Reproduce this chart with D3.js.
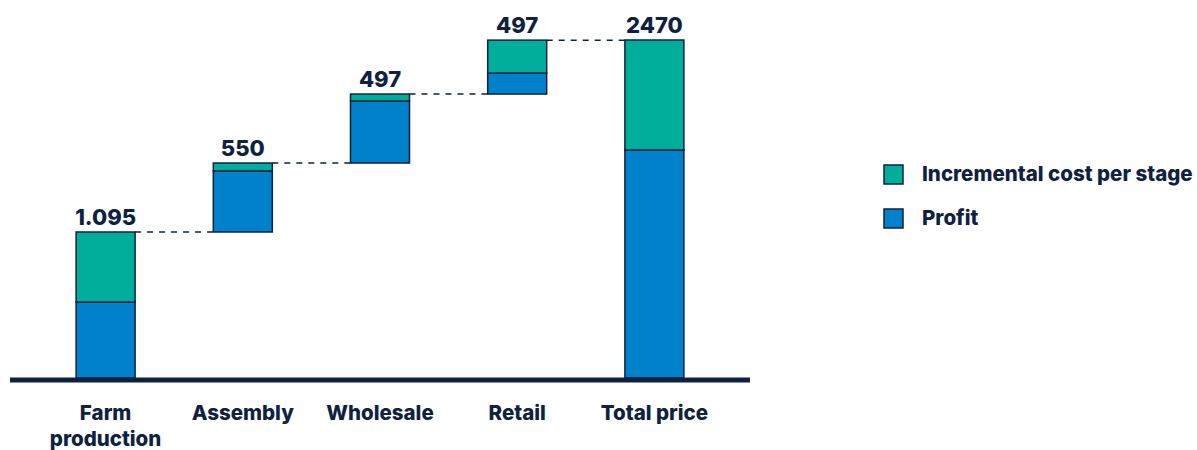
<!DOCTYPE html>
<html>
<head>
<meta charset="utf-8">
<script src="https://cdn.jsdelivr.net/npm/d3@7"></script>
<style>
  body { margin: 0; background: #fff; }
  text { font-family: Inter, "Noto Sans", sans-serif; font-weight: 800; fill: #0e2240; }
</style>
</head>
<body>
<div id="chart"></div>
<script>
// data
const stages = ["Farm production", "Assembly", "Wholesale", "Retail", "Total price"];
const profit = [555, 446, 453, 153, 1666];
const cost = [512, 58, 51, 241, 804];
const valueLabels = ["1.095", "550", "497", "497", "2470"];
const seriesNames = ["Incremental cost per stage", "Profit"];

const navy = "#0e2240", teal = "#00ae9b", blue = "#0081cc";

const width = 1197, height = 450;
const svg = d3.select("#chart").append("svg")
  .attr("width", width).attr("height", height);

const x = d3.scaleBand().domain(stages).range([37, 723])
  .paddingInner(0.57).paddingOuter(0.285);
const y = d3.scaleLinear().domain([0, 2470]).range([378, 40]);

// waterfall bases: each stage starts where the previous one ended, total starts at 0
const totals = stages.map((s, i) => profit[i] + cost[i]);
const bases = [];
let run = 0;
stages.forEach((s, i) => {
  if (i === stages.length - 1) bases.push(0);
  else { bases.push(run); run += totals[i]; }
});

const rows = stages.map((s, i) => ({ stage: s, base: bases[i], profit: profit[i], cost: cost[i], label: valueLabels[i] }));

// dashed connectors
svg.append("g")
  .selectAll("line")
  .data(rows.slice(0, -1))
  .join("line")
  .attr("x1", d => x(d.stage) + x.bandwidth())
  .attr("x2", (d, i) => x(stages[i + 1]))
  .attr("y1", d => y(d.base + d.profit + d.cost))
  .attr("y2", d => y(d.base + d.profit + d.cost))
  .attr("stroke", navy)
  .attr("stroke-width", 1.5)
  .attr("stroke-dasharray", "6,6");

// profit part (bottom)
svg.append("g")
  .selectAll("rect")
  .data(rows)
  .join("rect")
  .attr("x", d => x(d.stage))
  .attr("width", x.bandwidth())
  .attr("y", d => y(d.base + d.profit))
  .attr("height", d => y(d.base) - y(d.base + d.profit))
  .attr("fill", blue)
  .attr("stroke", navy)
  .attr("stroke-width", 1.5);

// cost part (top)
svg.append("g")
  .selectAll("rect")
  .data(rows)
  .join("rect")
  .attr("x", d => x(d.stage))
  .attr("width", x.bandwidth())
  .attr("y", d => y(d.base + d.profit + d.cost))
  .attr("height", d => y(d.base + d.profit) - y(d.base + d.profit + d.cost))
  .attr("fill", teal)
  .attr("stroke", navy)
  .attr("stroke-width", 1.5);

// value labels
svg.append("g")
  .selectAll("text")
  .data(rows)
  .join("text")
  .attr("x", d => x(d.stage) + x.bandwidth() / 2)
  .attr("y", d => y(d.base + d.profit + d.cost) - 7)
  .attr("text-anchor", "middle")
  .style("font-size", "22px")
  .text(d => d.label);

// baseline
svg.append("line")
  .attr("x1", 10).attr("x2", 750)
  .attr("y1", y(0) + 2).attr("y2", y(0) + 2)
  .attr("stroke", navy)
  .attr("stroke-width", 5);

// category labels, wrapped on space for the first one
const xl = svg.append("g")
  .selectAll("text")
  .data(stages)
  .join("text")
  .attr("x", d => x(d) + x.bandwidth() / 2)
  .attr("y", 420)
  .attr("text-anchor", "middle")
  .style("font-size", "20.5px");
xl.each(function (d) {
  const words = d === "Farm production" ? d.split(" ") : [d];
  words.forEach((w, i) => {
    d3.select(this).append("tspan")
      .attr("x", x(d) + x.bandwidth() / 2)
      .attr("dy", i === 0 ? 0 : 26)
      .text(w);
  });
});

// legend
const legend = svg.append("g")
  .selectAll("g")
  .data(seriesNames)
  .join("g")
  .attr("transform", (d, i) => `translate(884, ${165 + i * 44})`);
legend.append("rect")
  .attr("width", 19).attr("height", 19)
  .attr("fill", (d, i) => i === 0 ? teal : blue)
  .attr("stroke", navy)
  .attr("stroke-width", 1.5);
legend.append("text")
  .attr("x", 38).attr("y", 15.5)
  .style("font-size", "20.5px")
  .text(d => d);
</script>
</body>
</html>
